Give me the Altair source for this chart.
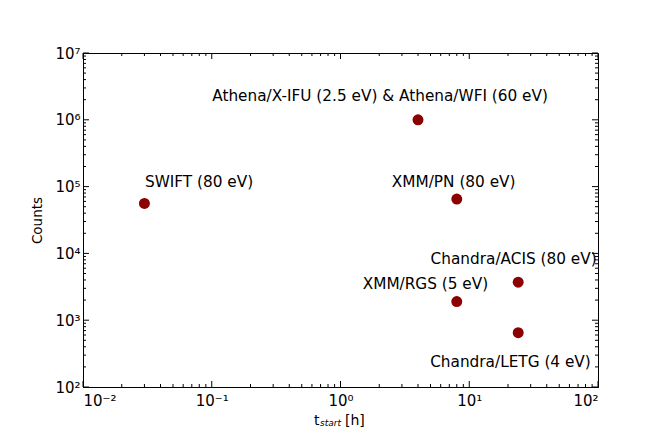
import altair as alt
import pandas as pd

# --- data ---
instruments = ["SWIFT", "Athena", "XMM/PN", "Chandra/ACIS", "XMM/RGS", "Chandra/LETG"]
t_start = [0.03, 4.0, 8.0, 24.0, 8.0, 24.0]
counts = [5.6e4, 1.0e6, 6.5e4, 3.7e3, 1.9e3, 650]

labels = ["SWIFT (80 eV)", "Athena/X-IFU (2.5 eV) & Athena/WFI (60 eV)", "XMM/PN (80 eV)",
          "Chandra/ACIS (80 eV)", "XMM/RGS (5 eV)", "Chandra/LETG (4 eV)"]
label_x = [0.0303, 2.03, 7.57, 22.1, 4.57, 20.9]
label_y = [1.17e5, 2.3e6, 1.17e5, 8.3e3, 3.5e3, 236]
label_align = ["left", "center", "center", "center", "center", "center"]

x_major = [0.01, 0.1, 1, 10, 100]
x_tick_labels = ["10⁻²", "10⁻¹", "10⁰", "10¹", "10²"]
y_major = [1e2, 1e3, 1e4, 1e5, 1e6, 1e7]
y_tick_labels = ["10²", "10³", "10⁴", "10⁵", "10⁶", "10⁷"]
x_minor = [m * d for d in [0.01, 0.1, 1, 10] for m in range(2, 10)]
y_minor = [m * d for d in [1e2, 1e3, 1e4, 1e5, 1e6] for m in range(2, 10)]

x_title_parts = ["t", "start", "[h]"]

W, H = 515, 334
MAJ, MIN = 6, 3
RED = "#8b0000"

pts = pd.DataFrame({"inst": instruments, "t": t_start, "c": counts})
lab = pd.DataFrame({"label": labels, "t": label_x, "c": label_y, "align": label_align})

xs = alt.Scale(type="log", domain=[0.01, 100], nice=False)
ys = alt.Scale(type="log", domain=[100, 1e7], nice=False)

x_expr = "[" + ",".join("'%s'" % s for s in x_tick_labels) + "][round(log(datum.value)/LN10)+2]"
y_expr = "[" + ",".join("'%s'" % s for s in y_tick_labels) + "][round(log(datum.value)/LN10)-2]"

points = alt.Chart(pts).mark_circle(size=120, color=RED, opacity=1).encode(
    x=alt.X("t:Q", scale=xs, axis=alt.Axis(values=x_major, labelExpr=x_expr, title=None,
                                           tickSize=0, labelPadding=6, grid=False,
                                           labelFontSize=15,
                                           labelColor="black", domainColor="black")),
    y=alt.Y("c:Q", scale=ys, axis=alt.Axis(values=y_major, labelExpr=y_expr, title="Counts",
                                           tickSize=0, labelPadding=3, titlePadding=10, grid=False,
                                           labelFontSize=15, titleFontSize=13.5, titleFontWeight="normal",
                                           labelColor="black", titleColor="black", domainColor="black",
                                           labelBaseline="middle")),
)

text_left = alt.Chart(lab[lab["align"] == "left"]).mark_text(
    align="left", baseline="middle", fontSize=15.3, font="DejaVu Sans", color="black"
).encode(x=alt.X("t:Q", scale=xs), y=alt.Y("c:Q", scale=ys), text="label:N")
text_center = alt.Chart(lab[lab["align"] == "center"]).mark_text(
    align="center", baseline="middle", fontSize=15.3, font="DejaVu Sans", color="black"
).encode(x=alt.X("t:Q", scale=xs), y=alt.Y("c:Q", scale=ys), text="label:N")

# x-axis title with italic subscript
one = pd.DataFrame({"t": x_title_parts})
title_t = alt.Chart(one.iloc[[0]]).mark_text(
    align="left", baseline="alphabetic", fontSize=14, font="DejaVu Sans", color="black"
).encode(x=alt.value(231), y=alt.value(372), text="t:N")
title_sub = alt.Chart(one.iloc[[1]]).mark_text(
    align="left", baseline="alphabetic", fontSize=9, fontStyle="italic", font="DejaVu Sans", color="black"
).encode(x=alt.value(237), y=alt.value(373), text="t:N")
title_unit = alt.Chart(one.iloc[[2]]).mark_text(
    align="left", baseline="alphabetic", fontSize=14, font="DejaVu Sans", color="black"
).encode(x=alt.value(262), y=alt.value(372), text="t:N")


def xticks(vals, length):
    d = pd.DataFrame({"v": vals})
    bottom = alt.Chart(d).mark_rule(color="black", strokeWidth=1).encode(
        x=alt.X("v:Q", scale=xs), y=alt.value(H), y2=alt.value(H - length))
    top = alt.Chart(d).mark_rule(color="black", strokeWidth=1).encode(
        x=alt.X("v:Q", scale=xs), y=alt.value(0), y2=alt.value(length))
    return [bottom, top]


def yticks(vals, length):
    d = pd.DataFrame({"v": vals})
    left = alt.Chart(d).mark_rule(color="black", strokeWidth=1).encode(
        y=alt.Y("v:Q", scale=ys), x=alt.value(0), x2=alt.value(length))
    right = alt.Chart(d).mark_rule(color="black", strokeWidth=1).encode(
        y=alt.Y("v:Q", scale=ys), x=alt.value(W), x2=alt.value(W - length))
    return [left, right]


tick_layers = xticks(x_major, MAJ) + xticks(x_minor, MIN) + yticks(y_major, MAJ) + yticks(y_minor, MIN)

chart = alt.layer(points, text_left, text_center, title_t, title_sub, title_unit, *tick_layers).properties(
    width=W, height=H,
    autosize=alt.AutoSizeParams(type="none"),
    padding={"left": 75, "top": 45, "right": 50, "bottom": 48},
).configure(font="DejaVu Sans").configure_view(stroke="black", strokeWidth=1).configure_axis(
    labelFont="DejaVu Sans", titleFont="DejaVu Sans"
)

chart.save("out.html", embed_options={"renderer": "svg", "actions": False})
